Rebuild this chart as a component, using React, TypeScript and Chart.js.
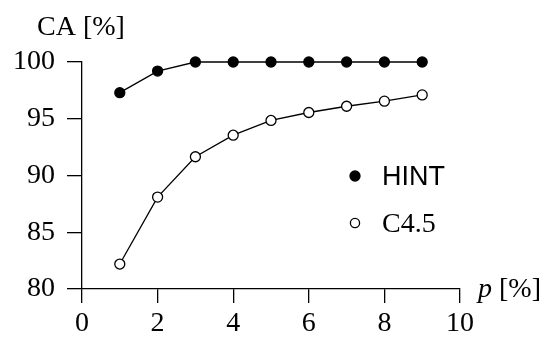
import React, { useEffect, useRef } from "react";
import { Chart, registerables } from "chart.js";

Chart.register(...registerables);

const xValues = [1, 2, 3, 4, 5, 6, 7, 8, 9];
const hintValues = [97.3, 99.2, 100, 100, 100, 100, 100, 100, 100];
const c45Values = [82.2, 88.1, 91.65, 93.55, 94.85, 95.55, 96.1, 96.55, 97.1];
const seriesLabels = ["HINT", "C4.5"];
const yTitle = "CA [%]";
const xTitleVar = "p";
const xTitleUnit = " [%]";

const SERIF = "'Liberation Serif', 'DejaVu Serif', serif";
const SANS = "'Liberation Sans', 'DejaVu Sans', sans-serif";

const overlayPlugin = {
  id: "overlay",
  afterDraw(chart: any) {
    const ctx = chart.ctx;
    const area = chart.chartArea;
    ctx.save();
    ctx.fillStyle = "#000";
    ctx.textBaseline = "alphabetic";
    ctx.textAlign = "left";
    // y title
    ctx.font = `28px ${SERIF}`;
    ctx.fillText(yTitle, 37, 35);
    // x title
    const xt = area.right + 18;
    ctx.font = `italic 28px ${SERIF}`;
    ctx.fillText(xTitleVar, xt, 297);
    const pw = ctx.measureText(xTitleVar).width;
    ctx.font = `28px ${SERIF}`;
    ctx.fillText(xTitleUnit, xt + pw, 297);
    // legend
    const mx = 355;
    const rows = [176, 223];
    chart.data.datasets.forEach((ds: any, i: number) => {
      const y = rows[i];
      ctx.beginPath();
      ctx.arc(mx, y, i === 0 ? 5 : 4.6, 0, Math.PI * 2);
      ctx.fillStyle = ds.pointBackgroundColor;
      ctx.fill();
      ctx.lineWidth = 1.3;
      ctx.strokeStyle = "#000";
      ctx.stroke();
      ctx.fillStyle = "#000";
      ctx.font = i === 0 ? `27px ${SANS}` : `28px ${SERIF}`;
      ctx.fillText(ds.label, 382, y + 9);
    });
    ctx.restore();
  },
};

export default function App() {
  const ref = useRef<HTMLCanvasElement | null>(null);
  useEffect(() => {
    if (!ref.current) return;
    const chart = new Chart(ref.current, {
      type: "line",
      data: {
        datasets: [
          {
            label: seriesLabels[0],
            data: xValues.map((x, i) => ({ x, y: hintValues[i] })),
            borderColor: "#000",
            borderWidth: 1.3,
            pointRadius: 5,
            pointBackgroundColor: "#000",
            pointBorderColor: "#000",
            pointBorderWidth: 1.3,
            clip: false,
            tension: 0,
          },
          {
            label: seriesLabels[1],
            data: xValues.map((x, i) => ({ x, y: c45Values[i] })),
            borderColor: "#000",
            borderWidth: 1.3,
            pointRadius: 5,
            pointBackgroundColor: "#fff",
            pointBorderColor: "#000",
            pointBorderWidth: 1.3,
            clip: false,
            tension: 0,
          },
        ],
      },
      options: {
        animation: false,
        responsive: false,
        layout: { padding: { top: 62, right: 82, bottom: 0, left: 0 } },
        plugins: {
          legend: { display: false },
          tooltip: { enabled: false },
        },
        scales: {
          x: {
            type: "linear",
            min: 0,
            max: 10,
            ticks: {
              stepSize: 2,
              color: "#000",
              font: { family: SERIF, size: 28 },
              padding: 4,
              maxRotation: 0,
            },
            grid: {
              display: true,
              drawOnChartArea: false,
              color: "#000",
              lineWidth: 1.3,
              tickLength: 14,
            },
            border: { display: true, color: "#000", width: 1.3 },
            afterFit: (s: any) => {
              s.height = 51;
            },
          },
          y: {
            type: "linear",
            min: 80,
            max: 100,
            ticks: {
              stepSize: 5,
              color: "#000",
              font: { family: SERIF, size: 28 },
              padding: 12,
            },
            grid: {
              display: true,
              drawOnChartArea: false,
              color: "#000",
              lineWidth: 1.3,
              tickLength: 15,
            },
            border: { display: true, color: "#000", width: 1.3 },
            afterFit: (s: any) => {
              s.width = 82;
            },
          },
        },
      },
      plugins: [overlayPlugin],
    } as any);
    return () => chart.destroy();
  }, []);
  return (
    <div style={{ position: "absolute", left: 0, top: 0, width: 542, height: 340, background: "#fff" }}>
      <canvas ref={ref} width={542} height={340} style={{ display: "block" }} />
    </div>
  );
}
